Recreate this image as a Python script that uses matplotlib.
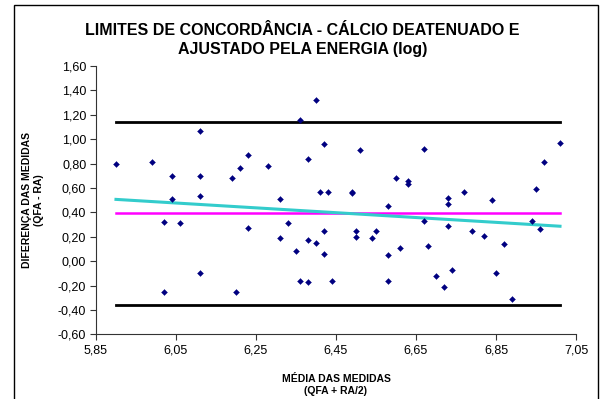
import matplotlib

matplotlib.use("Agg")
import matplotlib.pyplot as plt
import numpy as np
from matplotlib.patches import Rectangle
from matplotlib.ticker import FixedLocator, FuncFormatter, MultipleLocator

plt.rcParams["font.family"] = ["Liberation Sans", "DejaVu Sans"]

# mean of the two methods (x) and their difference (y), log scale
media = [
    5.90, 5.99, 6.04, 6.04, 6.02, 6.06, 6.02, 6.11, 6.11, 6.11, 6.11,
    6.19, 6.21, 6.23, 6.23, 6.20,
    6.28, 6.31, 6.31, 6.33, 6.35, 6.36, 6.36, 6.38, 6.38, 6.38, 6.40,
    6.40, 6.41, 6.42, 6.42, 6.42, 6.43, 6.44, 6.49, 6.49, 6.50, 6.50,
    6.51, 6.54, 6.55, 6.58, 6.58, 6.58, 6.60, 6.61, 6.63, 6.63, 6.67,
    6.67, 6.68,
    6.70, 6.72, 6.73, 6.73, 6.73, 6.74, 6.77, 6.79, 6.82, 6.84, 6.85,
    6.87, 6.89, 6.94, 6.95, 6.96, 6.97, 7.01,
]
diferenca = [
    0.80, 0.81, 0.70, 0.51, 0.32, 0.31, -0.25, 1.07, 0.70, 0.53, -0.10,
    0.68, 0.76, 0.87, 0.27, -0.25,
    0.78, 0.51, 0.19, 0.31, 0.08, 1.16, -0.16, 0.84, 0.17, -0.17, 1.32,
    0.15, 0.57, 0.96, 0.25, 0.06, 0.57, -0.16, 0.57, 0.56, 0.25, 0.20,
    0.91, 0.19, 0.25, 0.45, 0.05, -0.16, 0.68, 0.11, 0.66, 0.63, 0.92,
    0.33, 0.12,
    -0.12, -0.21, 0.52, 0.47, 0.29, -0.07, 0.57, 0.25, 0.21, 0.50, -0.10,
    0.14, -0.31, 0.33, 0.59, 0.26, 0.81, 0.97,
]
x_ticks = [5.85, 6.05, 6.25, 6.45, 6.65, 6.85, 7.05]

x = np.array(media)
y = np.array(diferenca)

media_dif = y.mean()
dp = y.std(ddof=1)
lim_sup = media_dif + 1.96 * dp
lim_inf = media_dif - 1.96 * dp
inclinacao, intercepto = np.polyfit(x, y, 1)

fig = plt.figure(figsize=(6.01, 3.99), dpi=100)
ax = fig.add_axes([0.1597, 0.1622, 0.7987, 0.6724])

x_ext = np.array([x.min(), x.max()])
ax.plot(x_ext, [lim_sup, lim_sup], color="black", lw=2.0, zorder=2)
ax.plot(x_ext, [lim_inf, lim_inf], color="black", lw=2.0, zorder=2)
ax.plot(x_ext, [media_dif, media_dif], color="#FF00FF", lw=1.8, zorder=2)
ax.plot(x_ext, intercepto + inclinacao * x_ext, color="#33CCCC", lw=2.2, zorder=3)
ax.plot(x, y, "D", color="#000080", ms=3.0, mec="#000080", mew=0.3, zorder=4)

ax.set_xlim(5.85, 7.05)
ax.set_ylim(-0.60, 1.60)
ax.xaxis.set_major_locator(FixedLocator(x_ticks))
ax.yaxis.set_major_locator(MultipleLocator(0.2))
virgula = FuncFormatter(lambda v, _: f"{v:.2f}".replace(".", ",").replace("-0,00", "0,00"))
ax.xaxis.set_major_formatter(virgula)
ax.yaxis.set_major_formatter(virgula)
ax.tick_params(direction="out", length=4, width=0.8, labelsize=9, color="#333333", pad=3)

for lado in ("top", "right"):
    ax.spines[lado].set_visible(False)
for lado in ("left", "bottom"):
    ax.spines[lado].set_color("#333333")
    ax.spines[lado].set_linewidth(0.8)

ax.set_xlabel("MÉDIA DAS MEDIDAS\n(QFA + RA/2)", fontsize=7.5, fontweight="bold", labelpad=13, linespacing=1.3)
ax.set_ylabel("DIFERENÇA DAS MEDIDAS\n(QFA - RA)", fontsize=7.5, fontweight="bold", labelpad=10, linespacing=1.3)

fig.text(0.503, 0.90, "LIMITES DE CONCORDÂNCIA - CÁLCIO DEATENUADO E\nAJUSTADO PELA ENERGIA (log)",
         ha="center", va="center", fontsize=11.5, fontweight="bold", linespacing=1.3)

fig.patches.append(Rectangle((14 / 601, -0.02), 584 / 601, 1.007, transform=fig.transFigure,
                             fill=False, edgecolor="black", lw=1.0))

fig.savefig("out.png", dpi=100)
